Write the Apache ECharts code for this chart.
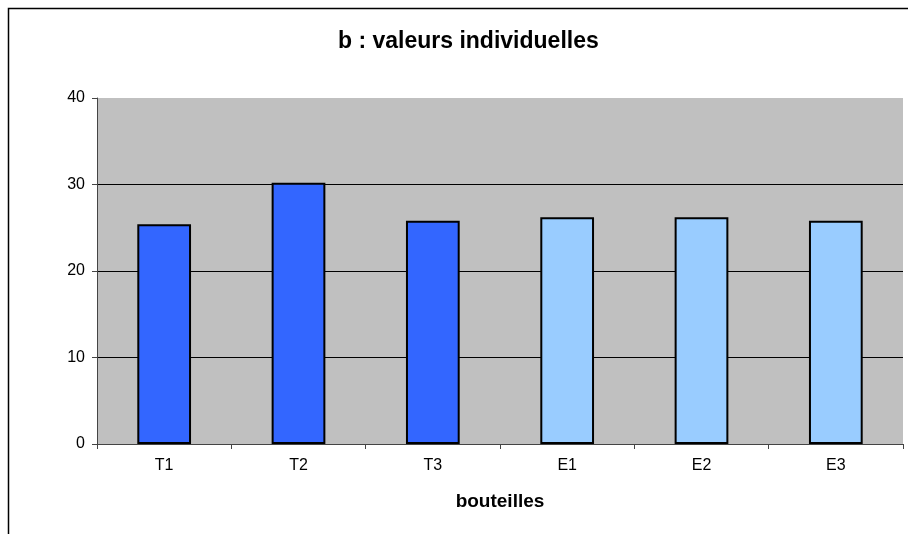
<!DOCTYPE html>
<html>
<head>
<meta charset="utf-8">
<script src="https://cdn.jsdelivr.net/npm/echarts@6/dist/echarts.min.js"></script>
<style>
  html, body { margin: 0; padding: 0; background: #fff; }
  #chart { width: 908px; height: 534px; }
</style>
</head>
<body>
<div id="chart"></div>
<script>
const categories = ['T1', 'T2', 'T3', 'E1', 'E2', 'E3'];
const values = [25.4, 30.2, 25.8, 26.2, 26.2, 25.8];
const yTicks = [0, 10, 20, 30, 40];

const darkBlue = '#3366ff';
const lightBlue = '#99ccff';

const chart = echarts.init(document.getElementById('chart'));
chart.setOption({
  animation: false,
  textStyle: { fontFamily: 'Liberation Sans, Arial, sans-serif' },
  title: {
    text: 'b : valeurs individuelles',
    left: 333,
    top: 25,
    textStyle: { fontSize: 23, fontWeight: 'bold', color: '#000' },
  },
  graphic: [
    {
      type: 'rect',
      left: 6,
      top: 6,
      shape: { width: 1000, height: 700 },
      style: { fill: 'none', stroke: '#000', lineWidth: 1.5 },
      silent: true,
    },
  ],
  grid: {
    left: 97,
    right: 5,
    top: 98,
    bottom: 90,
    show: true,
    backgroundColor: '#c0c0c0',
    borderWidth: 0,
  },
  xAxis: {
    type: 'category',
    data: categories,
    name: 'bouteilles',
    nameLocation: 'middle',
    nameGap: 48,
    nameTextStyle: { fontSize: 19, fontWeight: 'bold', color: '#000' },
    axisLine: { lineStyle: { color: '#444', width: 1 } },
    axisTick: { show: true, length: 5, lineStyle: { color: '#444' } },
    axisLabel: { fontSize: 16, color: '#000', margin: 14 },
  },
  yAxis: {
    type: 'value',
    min: yTicks[0],
    max: yTicks[yTicks.length - 1],
    interval: 10,
    axisLine: { show: true, lineStyle: { color: '#444', width: 1 } },
    axisTick: { show: true, length: 5, lineStyle: { color: '#444' } },
    axisLabel: { fontSize: 16, color: '#000', margin: 12 },
    splitLine: {
      show: true,
      showMinLine: false,
      showMaxLine: false,
      lineStyle: { color: '#000', width: 1 },
    },
  },
  series: [
    {
      type: 'bar',
      data: values,
      barWidth: '40%',
      itemStyle: {
        color: (p) => (p.name.startsWith('T') ? darkBlue : lightBlue),
        borderColor: '#000',
        borderWidth: 2,
      },
    },
  ],
});
</script>
</body>
</html>
